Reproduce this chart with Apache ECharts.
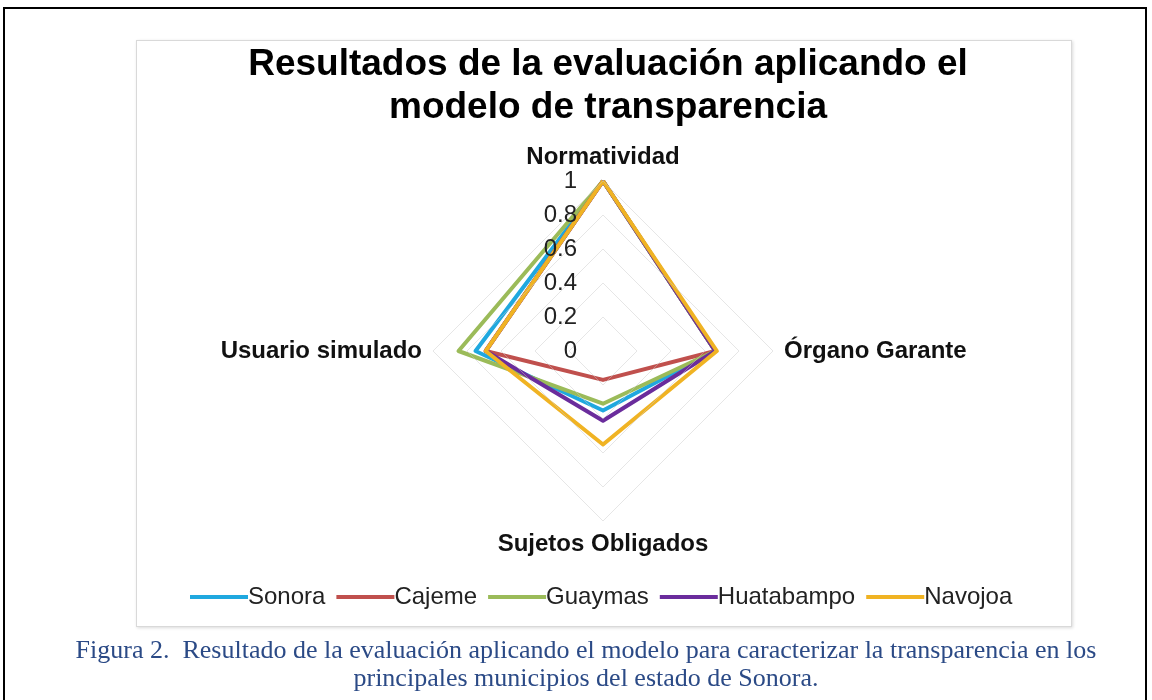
<!DOCTYPE html>
<html>
<head>
<meta charset="utf-8">
<script src="https://cdn.jsdelivr.net/npm/echarts@6/dist/echarts.min.js"></script>
<style>
  body { margin: 0; background: #fff; }
  #frame { position: absolute; left: 3px; top: 7px; width: 1144px; height: 720px; border: 2px solid #000; box-sizing: border-box; }
  #box { position: absolute; left: 136px; top: 40px; width: 934px; height: 585px; border: 1px solid #d9d9d9; box-shadow: 1px 1px 3px rgba(0,0,0,0.15); background: #fff; }
  #main { position: absolute; left: 0; top: 0; width: 1152px; height: 700px; }
  #caption { position: absolute; left: 10px; top: 636px; width: 1152px; text-align: center; font-family: "Liberation Serif", serif; font-size: 26px; line-height: 28px; color: #2b4a86; }
</style>
</head>
<body>
<div id="frame"></div>
<div id="box"></div>
<div id="main"></div>
<div id="caption">Figura 2.&nbsp; Resultado de la evaluación aplicando el modelo para caracterizar la transparencia en los<br>principales municipios del estado de Sonora.</div>
<script>
// ejes del radar (orden antihorario desde arriba)
var indicadores = ['Normatividad', 'Usuario simulado', 'Sujetos Obligados', 'Órgano Garante'];
var municipios = ['Sonora', 'Cajeme', 'Guaymas', 'Huatabampo', 'Navojoa'];
var colores = ['#1fa8df', '#c0504d', '#9bbb59', '#6a2c9c', '#f0b323'];

var sonora     = [1, 0.75, 0.35, 0.66];
var cajeme     = [1, 0.69, 0.17, 0.66];
var guaymas    = [1, 0.85, 0.31, 0.66];
var huatabampo = [1, 0.69, 0.41, 0.66];
var navojoa    = [1, 0.69, 0.55, 0.67];
var valores = [sonora, cajeme, guaymas, huatabampo, navojoa];

var myChart = echarts.init(document.getElementById('main'));

var indicator = indicadores.map(function (n, i) {
  var o = { name: n, min: 0, max: 1 };
  if (i === 0) {
    o.axisLabel = { show: true };
  }
  return o;
});

var option = {
  animation: false,
  title: {
    text: 'Resultados de la evaluación aplicando el\nmodelo de transparencia',
    left: 603,
    top: 38,
    textAlign: 'center',
    textStyle: {
      fontFamily: 'Liberation Sans, Arial',
      fontSize: 37,
      fontWeight: 'bold',
      color: '#000',
      lineHeight: 43
    }
  },
  legend: {
    data: municipios,
    top: 580,
    left: 185,
    icon: 'rect',
    itemWidth: 58,
    itemHeight: 4,
    itemGap: 11,
    textStyle: { fontFamily: 'Liberation Sans, Arial', fontSize: 24, color: '#222', padding: [0, 0, 0, -5] }
  },
  radar: {
    z: 3,
    center: [603, 351],
    radius: 170,
    startAngle: 90,
    shape: 'polygon',
    splitNumber: 5,
    indicator: indicator,
    nameGap: 11,
    axisName: {
      color: '#111',
      fontFamily: 'Liberation Sans, Arial',
      fontSize: 24,
      fontWeight: 'bold'
    },
    axisLine: { show: false },
    axisTick: { show: false },
    axisLabel: {
      show: false,
      color: '#222',
      fontFamily: 'Liberation Sans, Arial',
      fontSize: 24,
      margin: 26,
      formatter: function (v) { return String(Math.round(v * 10) / 10); }
    },
    splitLine: { lineStyle: { color: 'rgba(200,200,200,0.45)', width: 1 } },
    splitArea: { show: false }
  },
  series: [{
    type: 'radar',
    symbol: 'none',
    data: municipios.map(function (m, i) {
      return {
        name: m,
        value: valores[i],
        lineStyle: { color: colores[i], width: 4 },
        itemStyle: { color: colores[i] }
      };
    })
  }]
};

myChart.setOption(option);
</script>
</body>
</html>
